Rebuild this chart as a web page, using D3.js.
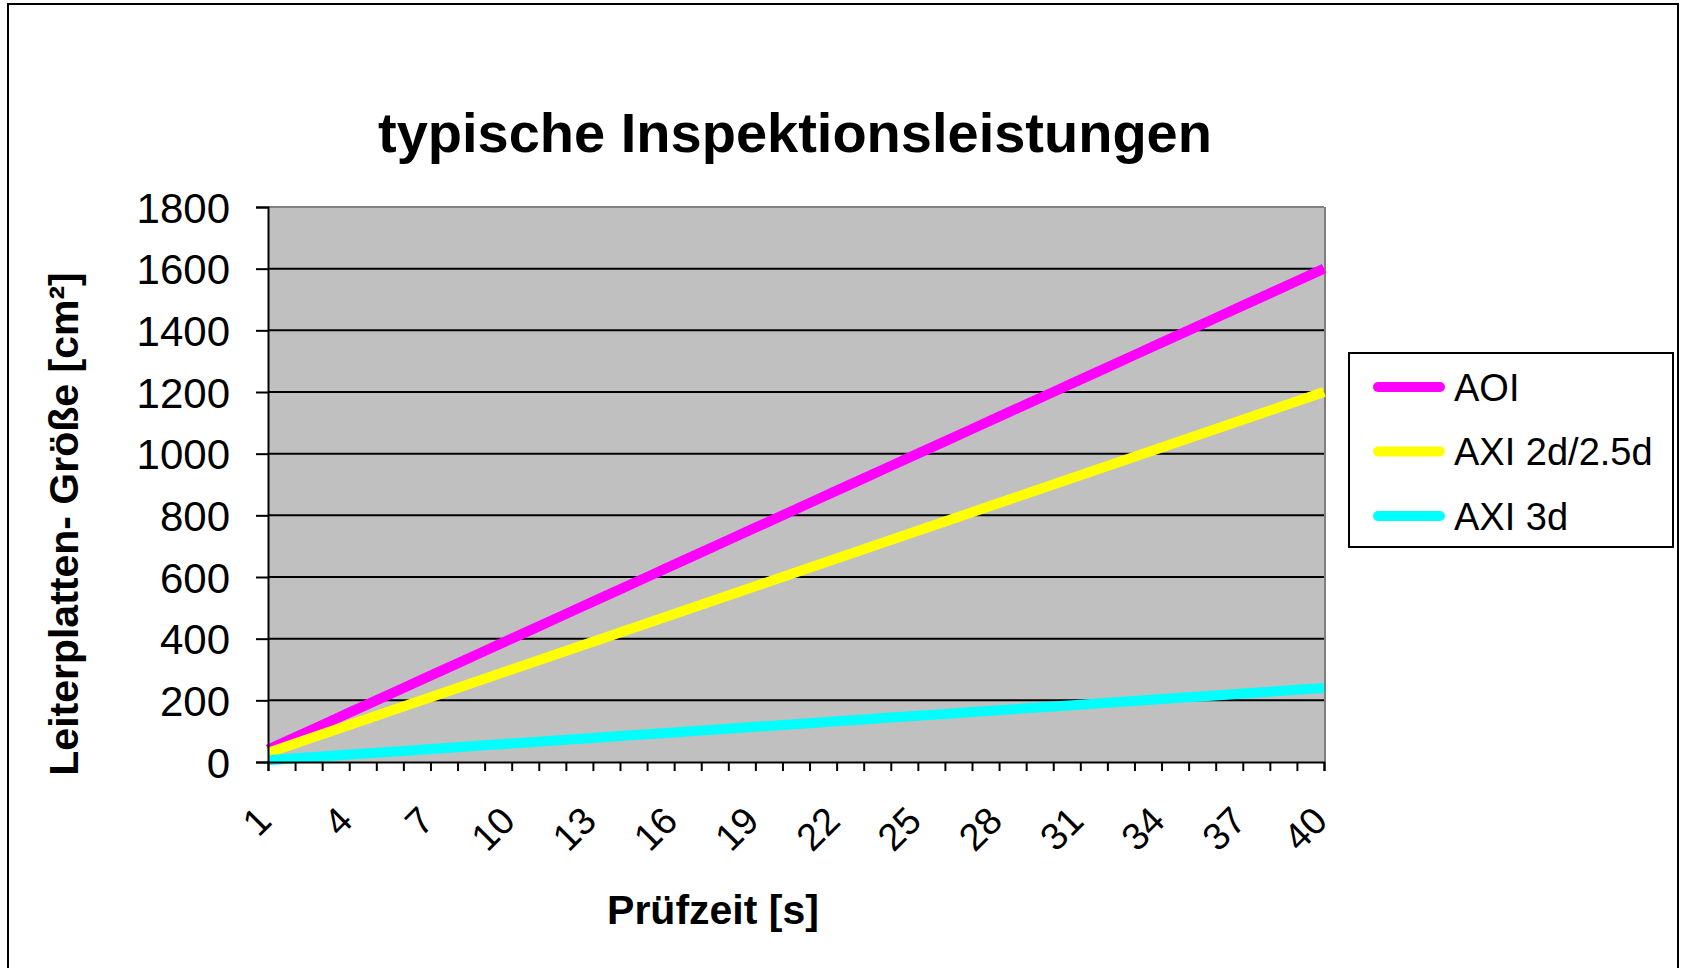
<!DOCTYPE html>
<html>
<head>
<meta charset="utf-8">
<script src="https://cdn.jsdelivr.net/npm/d3@7"></script>
<style>
  body { margin: 0; background: #fff; }
  svg { display: block; }
  text { font-family: "Liberation Sans", Arial, sans-serif; fill: #000; }
</style>
</head>
<body>
<svg id="chart" width="1681" height="968"></svg>
<script>
// Prüfzeit categories (seconds)
const categories = [1,2,3,4,5,6,7,8,9,10,11,12,13,14,15,16,17,18,19,20,
                    21,22,23,24,25,26,27,28,29,30,31,32,33,34,35,36,37,38,39,40];
// labelled categories on the x axis
const xTickLabels = [1,4,7,10,13,16,19,22,25,28,31,34,37,40];
const yTicks = [0,200,400,600,800,1000,1200,1400,1600,1800];

// inspected board area [cm²] per test time
const aoi = [40,80,120,160,200,240,280,320,360,400,440,480,520,560,600,640,680,720,760,800,
             840,880,920,960,1000,1040,1080,1120,1160,1200,1240,1280,1320,1360,1400,1440,1480,1520,1560,1600];
const axi2d = [30,60,90,120,150,180,210,240,270,300,330,360,390,420,450,480,510,540,570,600,
               630,660,690,720,750,780,810,840,870,900,930,960,990,1020,1050,1080,1110,1140,1170,1200];
const axi3d = [6,12,18,24,30,36,42,48,54,60,66,72,78,84,90,96,102,108,114,120,
               126,132,138,144,150,156,162,168,174,180,186,192,198,204,210,216,222,228,234,240];

const seriesNames = ["AOI", "AXI 2d/2.5d", "AXI 3d"];
const seriesColors = ["#ff00ff", "#ffff00", "#00ffff"];
const seriesValues = [aoi, axi2d, axi3d];

const svg = d3.select("#chart");
const plot = { left: 268, right: 1324, top: 207, bottom: 762 };

// outer chart frame
svg.append("rect")
  .attr("x", 8).attr("y", 4).attr("width", 1670).attr("height", 980)
  .attr("fill", "#fff").attr("stroke", "#000").attr("stroke-width", 2);

const x = d3.scalePoint().domain(categories).range([plot.left, plot.right]);
const y = d3.scaleLinear().domain([0, 1800]).range([plot.bottom, plot.top]);

// plot area
svg.append("rect")
  .attr("x", plot.left).attr("y", plot.top)
  .attr("width", plot.right - plot.left).attr("height", plot.bottom - plot.top)
  .attr("fill", "#c0c0c0");

// horizontal gridlines
svg.append("g").selectAll("line")
  .data(yTicks.filter(d => d > 0))
  .join("line")
  .attr("x1", plot.left).attr("x2", plot.right)
  .attr("y1", d => y(d)).attr("y2", d => y(d))
  .attr("stroke", d => d === 1800 ? "#808080" : "#000")
  .attr("stroke-width", 2);

// right border of plot area
svg.append("line")
  .attr("x1", plot.right + 1).attr("x2", plot.right + 1)
  .attr("y1", plot.top).attr("y2", plot.bottom)
  .attr("stroke", "#808080").attr("stroke-width", 2);

// series lines
const line = d3.line().x((d, i) => x(categories[i])).y(d => y(d));
svg.append("g").selectAll("path")
  .data(seriesValues)
  .join("path")
  .attr("d", d => line(d))
  .attr("fill", "none")
  .attr("stroke", (d, i) => seriesColors[i])
  .attr("stroke-width", 10)
  .attr("stroke-linejoin", "round");

// y axis
const yAxis = svg.append("g")
  .attr("transform", `translate(${plot.left},0)`)
  .call(d3.axisLeft(y).tickValues(yTicks).tickFormat(d3.format("d")).tickSize(12).tickPadding(26));
yAxis.select(".domain").attr("stroke", "#000").attr("stroke-width", 2);
yAxis.selectAll(".tick line").attr("stroke", "#000").attr("stroke-width", 2);
yAxis.selectAll(".tick text")
  .attr("dy", "0.36em")
  .style("font-size", "42px");

// x axis
const xAxis = svg.append("g")
  .attr("transform", `translate(0,${plot.bottom})`)
  .call(d3.axisBottom(x).tickSize(9).tickFormat(d => xTickLabels.includes(d) ? d : ""));
xAxis.select(".domain").attr("stroke", "#000").attr("stroke-width", 2);
xAxis.selectAll(".tick line").attr("stroke", "#000").attr("stroke-width", 2);
xAxis.selectAll(".tick text")
  .attr("y", 0).attr("dy", 0)
  .attr("text-anchor", "end")
  .attr("transform", "translate(5,61) rotate(-45)")
  .style("font-size", "38px");

// title
svg.append("text")
  .attr("x", 795).attr("y", 152)
  .attr("text-anchor", "middle")
  .style("font-size", "56px").style("font-weight", "bold")
  .text("typische Inspektionsleistungen");

// axis titles
svg.append("text")
  .attr("x", 713).attr("y", 924)
  .attr("text-anchor", "middle")
  .style("font-size", "41px").style("font-weight", "bold")
  .text("Prüfzeit [s]");

svg.append("text")
  .attr("transform", "translate(78,524) rotate(-90)")
  .attr("text-anchor", "middle")
  .style("font-size", "41px").style("font-weight", "bold")
  .text("Leiterplatten- Größe [cm²]");

// legend
const legend = svg.append("g");
legend.append("rect")
  .attr("x", 1349).attr("y", 353).attr("width", 324).attr("height", 194)
  .attr("fill", "#fff").attr("stroke", "#000").attr("stroke-width", 2);
const rows = legend.selectAll("g.row")
  .data(seriesNames)
  .join("g").attr("class", "row")
  .attr("transform", (d, i) => `translate(0,${387 + i * 64.5})`);
rows.append("line")
  .attr("x1", 1378).attr("x2", 1440)
  .attr("stroke", (d, i) => seriesColors[i])
  .attr("stroke-width", 10).attr("stroke-linecap", "round");
rows.append("text")
  .attr("x", 1454).attr("y", 0).attr("dy", "0.36em")
  .style("font-size", "38px")
  .text(d => d);
</script>
</body>
</html>
